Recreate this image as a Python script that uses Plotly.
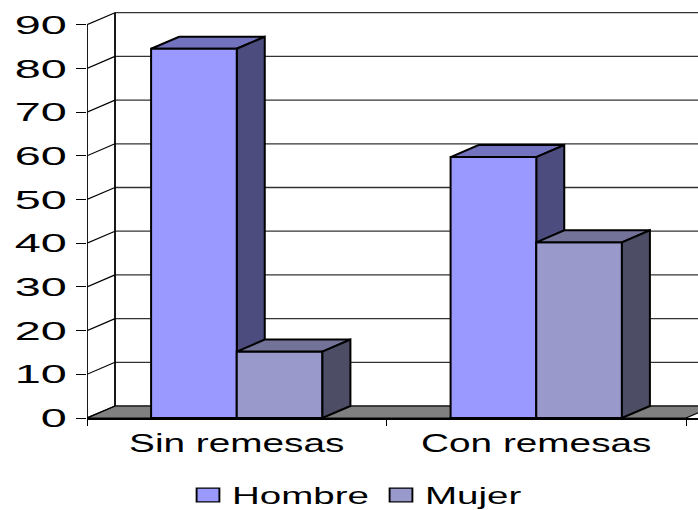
import plotly.graph_objects as go

categories = ["Sin remesas", "Con remesas"]
hombre = [84.5, 59.7]
mujer = [15.2, 40.2]
y_ticks = [0, 10, 20, 30, 40, 50, 60, 70, 80, 90]
series_names = ["Hombre", "Mujer"]

X_PER_CAT = 299.5
Y_PER_UNIT = 4.37
PLOT_L, PLOT_B, W, H = 87, 92, 698, 510
DX = 28 / X_PER_CAT
DY = 12 / Y_PER_UNIT
BAR_W = 0.286
xrange_ = [0, (W - PLOT_L) / X_PER_CAT]
yrange_ = [0, (H - PLOT_B) / Y_PER_UNIT]
centers = [0.5, 1.5]

fig = go.Figure()

def poly(xs, ys, fill=None, line="black", lw=2, axes=("x", "y")):
    fig.add_trace(go.Scatter(
        x=xs, y=ys, mode="lines", xaxis=axes[0], yaxis=axes[1],
        fill="toself" if fill else None, fillcolor=fill,
        line=dict(color=line, width=lw), showlegend=False,
        hoverinfo="skip", cliponaxis=False if not fill else True))

# floor
poly([0, DX, 2 + DX, 2, 0], [0, DY, DY, 0, 0], fill="#808080", lw=1.2)
# back wall gridlines and side-wall connectors
for v in y_ticks:
    poly([DX, xrange_[1]], [v + DY, v + DY], line="#333333", lw=1.3)
    poly([0, DX], [v, v + DY], lw=1.2)
poly([DX, DX], [DY, 90 + DY], lw=1.8)
poly([0, 0], [0, 90], lw=1.8)

def box_faces(left, width, value, top_col, side_col, axes):
    r = left + width
    poly([left, left + DX, r + DX, r, left], [value, value + DY, value + DY, value, value],
         fill=top_col, axes=axes)
    poly([r, r + DX, r + DX, r, r], [0, DY, value + DY, value, 0],
         fill=side_col, axes=axes)

for c, v in zip(centers, hombre):
    box_faces(c - BAR_W, BAR_W, v, "#7272BE", "#4C4C7F", ("x", "y"))

# front faces live on an overlaying subplot so they hide the first series' sides
fig.add_trace(go.Bar(x=centers, y=hombre, name=series_names[0], xaxis="x2", yaxis="y2",
                     marker=dict(color="#9999FF", line=dict(color="black", width=2))))
fig.add_trace(go.Bar(x=centers, y=mujer, name=series_names[1], xaxis="x2", yaxis="y2",
                     marker=dict(color="#9999CC", line=dict(color="black", width=2))))
for c, v in zip(centers, mujer):
    box_faces(c, BAR_W, v, "#737399", "#4D4D66", ("x2", "y2"))

font = dict(family="Liberation Sans, Arial, sans-serif", color="black")
fig.update_layout(
    width=W, height=H, margin=dict(l=PLOT_L, r=0, t=0, b=PLOT_B, pad=0),
    paper_bgcolor="white", plot_bgcolor="rgba(0,0,0,0)",
    barmode="group", bargap=1 - 2 * BAR_W, bargroupgap=0,
    xaxis=dict(range=xrange_, tickmode="array", tickvals=centers, ticktext=categories,
               ticks="", showgrid=False, zeroline=False, showline=True, linecolor="black", linewidth=2,
               tickfont=dict(size=25, **font), ticklabelstandoff=2,
               minor=dict(tickmode="array", tickvals=[0, 1, 2], ticks="outside", ticklen=6,
                          tickcolor="black", tickwidth=1, showgrid=False)),
    yaxis=dict(range=yrange_, tickmode="array", tickvals=y_ticks, ticks="outside", ticklen=10,
               tickcolor="black", tickwidth=1, showgrid=False, zeroline=False, showline=False,
               tickfont=dict(size=26, **font), ticklabelstandoff=4),
    xaxis2=dict(overlaying="x", range=xrange_, visible=False),
    yaxis2=dict(overlaying="y", range=yrange_, visible=False),
    legend=dict(orientation="h", xref="container", yref="container",
                x=192 / W, xanchor="left", y=15 / H, yanchor="middle",
                entrywidth=148, entrywidthmode="pixels", font=dict(size=23, **font),
                bgcolor="rgba(0,0,0,0)", itemclick=False, itemdoubleclick=False, traceorder="normal"),
    showlegend=True,
)

post = """
document.body.style.margin='0';
function st(el,k,mode){var b=el.getBBox();var c=mode=='r'?b.x+b.width:mode=='l'?b.x:b.x+b.width/2;
var t=el.getAttribute('transform')||'';
el.setAttribute('transform',t+' translate('+c+',0) scale('+k+',1) translate('+(-c)+',0)');}
document.querySelectorAll('.ytick text').forEach(function(e){st(e,1.8,'r')});
document.querySelectorAll('.xtick text').forEach(function(e){st(e,1.55,'c')});
document.querySelectorAll('.legendtext').forEach(function(e){st(e,1.675,'l')});
document.querySelectorAll('.legendbar .legendundefined, .legendpoints path').forEach(function(e){
e.setAttribute('transform',(e.getAttribute('transform')||'')+' translate(-4,0) scale(1.9,1.15)');
e.style.strokeWidth='1';});
"""
fig.write_html("out.html", post_script=post, config={"displayModeBar": False})
